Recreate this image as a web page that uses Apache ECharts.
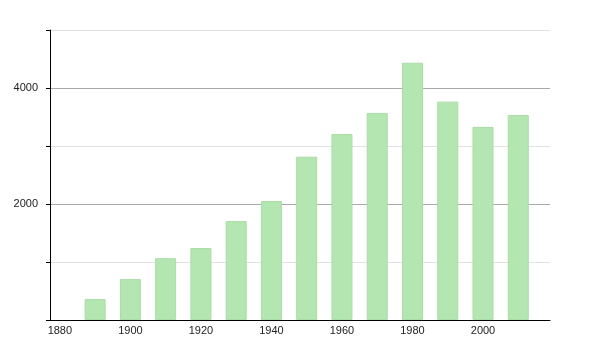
<!DOCTYPE html>
<html>
<head>
<meta charset="utf-8">
<script src="https://cdn.jsdelivr.net/npm/echarts@6/dist/echarts.min.js"></script>
<style>html,body{margin:0;padding:0;background:#fff;}#c{width:600px;height:350px;}</style>
</head>
<body>
<div id="c"></div>
<script>
var years = [1890, 1900, 1910, 1920, 1930, 1940, 1950, 1960, 1970, 1980, 1990, 2000, 2010];
var population = [360, 705, 1065, 1240, 1705, 2050, 2815, 3205, 3570, 4435, 3765, 3330, 3535];
var xTickLabels = [1880, 1900, 1920, 1940, 1960, 1980, 2000];
var yTickLabels = [2000, 4000];

var chart = echarts.init(document.getElementById('c'), null, {renderer: 'canvas'});
chart.setOption({
  animation: false,
  backgroundColor: '#fff',
  grid: {left: 50, right: 50, top: 30, bottom: 30, containLabel: false},
  xAxis: {
    type: 'value',
    min: 1877.2,
    max: 2019,
    axisLine: {show: true, onZero: false, lineStyle: {color: '#000', width: 1}},
    axisTick: {show: false},
    splitLine: {show: false},
    axisLabel: {
      customValues: xTickLabels,
      color: '#222',
      fontSize: 11,
      fontFamily: 'Liberation Sans, Arial, sans-serif',
      margin: 5,
      formatter: function (v) { return String(v); }
    }
  },
  yAxis: {
    type: 'value',
    min: 0,
    max: 5000,
    interval: 1000,
    axisLine: {show: true, lineStyle: {color: '#000', width: 1}},
    axisTick: {show: true, length: 4, lineStyle: {color: '#000'}},
    splitLine: {show: true, lineStyle: {color: ['#aaaaaa', '#e2e2e2'], width: 1}},
    axisLabel: {
      color: '#222',
      fontSize: 11,
      fontFamily: 'Liberation Sans, Arial, sans-serif',
      margin: 12,
      formatter: function (v) { return yTickLabels.indexOf(v) >= 0 ? String(v) : ''; }
    }
  },
  series: [{
    type: 'bar',
    data: years.map(function (y, i) { return [y, population[i]]; }),
    barWidth: 21,
    itemStyle: {color: '#b3e6b0', borderColor: '#a9dca6', borderWidth: 1},
    emphasis: {disabled: true}
  }]
});
</script>
</body>
</html>
